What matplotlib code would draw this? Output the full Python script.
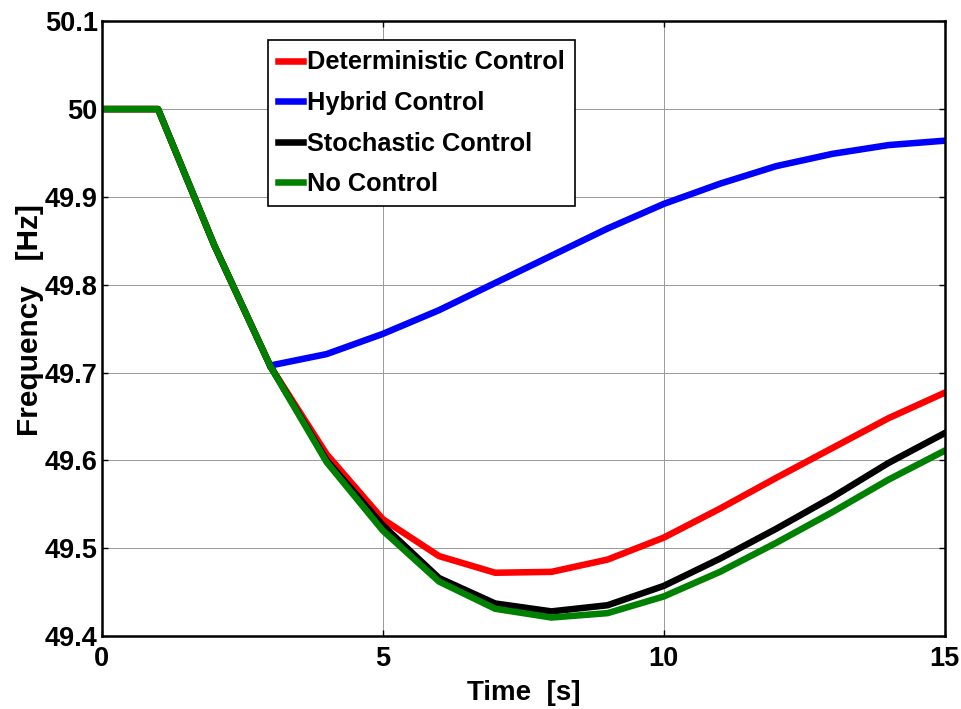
import numpy as np
import matplotlib.pyplot as plt

# frequency response, sampled each second
t = np.arange(0, 16)
t_hyb = np.arange(3, 16)

f_det = [50.0, 50.0, 49.845, 49.707, 49.607, 49.533, 49.491, 49.472, 49.473, 49.487,
         49.512, 49.545, 49.580, 49.614, 49.648, 49.677]
f_hyb = [49.708, 49.721, 49.744, 49.771, 49.802, 49.833, 49.864, 49.892, 49.915,
         49.935, 49.949, 49.959, 49.964]
f_sto = [50.0, 50.0, 49.845, 49.707, 49.600, 49.526, 49.466, 49.437, 49.428, 49.435,
         49.457, 49.488, 49.522, 49.558, 49.597, 49.631]
f_no = [50.0, 50.0, 49.845, 49.707, 49.598, 49.520, 49.462, 49.431, 49.421, 49.426,
        49.445, 49.473, 49.506, 49.541, 49.578, 49.611]

fam = ['Liberation Sans', 'DejaVu Sans']

fig = plt.figure(figsize=(9.61, 7.09), dpi=100)
ax = fig.add_axes([0.106, 0.103, 0.877, 0.867])

lw = 4.7
ax.plot(t, f_det, color='#ff0000', lw=lw, label='Deterministic Control')
ax.plot(t_hyb, f_hyb, color='#0000ff', lw=lw, label='Hybrid Control')
ax.plot(t, f_sto, color='black', lw=lw, label='Stochastic Control')
ax.plot(t, f_no, color='#008000', lw=lw, label='No Control')

ax.set_xlim(0, 15)
ax.set_ylim(49.4, 50.1)
ax.set_xticks([0, 5, 10, 15])
ax.set_yticks(np.round(np.arange(49.4, 50.11, 0.1), 1))
ax.set_yticklabels(['49.4', '49.5', '49.6', '49.7', '49.8', '49.9', '50', '50.1'])
ax.grid(True, color='#999999', lw=0.7)
ax.tick_params(direction='in', length=4, width=1, top=True, right=True)
for lab in ax.get_xticklabels() + ax.get_yticklabels():
    lab.set_family(fam)
    lab.set_fontweight('bold')
    lab.set_fontsize(19.5)
ax.tick_params(axis='x', pad=7)
ax.tick_params(axis='y', pad=3)
for s in ax.spines.values():
    s.set_linewidth(1.8)

ax.set_xlabel('Time  [s]', family=fam, fontweight='bold', fontsize=20, labelpad=6)
ax.set_ylabel('Frequency   [Hz]', family=fam, fontweight='bold', fontsize=21.5, va='center')
ax.yaxis.set_label_coords(-0.085, 0.514)

leg = ax.legend(loc='upper left', bbox_to_anchor=(0.197, 0.969), fancybox=False,
                edgecolor='black', framealpha=1, handlelength=1.0, handletextpad=0.15,
                labelspacing=0.65, borderpad=0.4, borderaxespad=0,
                prop={'family': fam, 'weight': 'bold', 'size': 18.3})
leg.get_frame().set_linewidth(1.2)

fig.savefig('out.png', dpi=100)
